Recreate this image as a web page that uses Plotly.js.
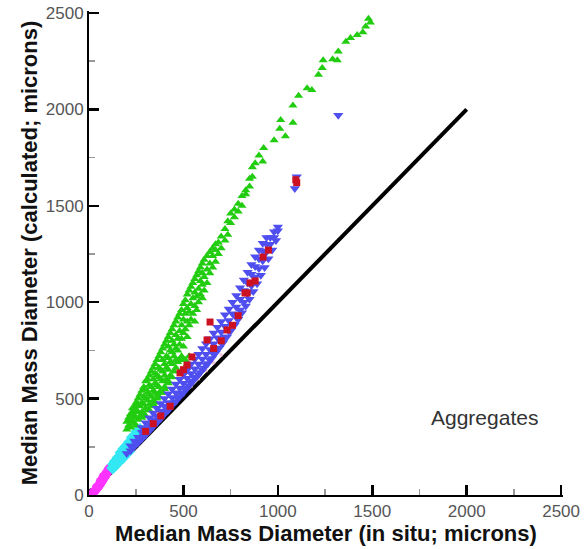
<!DOCTYPE html>
<html>
<head>
<meta charset="utf-8">
<script src="https://cdn.plot.ly/plotly-3.0.1.min.js"></script>
<style>html,body{margin:0;padding:0;background:#fff;}#chart{width:584px;height:549px;}</style>
</head>
<body>
<div id="chart"></div>
<script>
// Aggregates: calculated vs in situ median mass diameter (microns), [x, y] pairs
const greenPts = [[200,340],[200,380],[210,360],[210,400],[220,350],[220,390],[220,420],[230,380],[230,430],[230,450],[240,370],[240,410],[240,460],[250,360],[250,400],[250,440],[250,480],[260,390],[260,430],[260,470],[260,500],[270,410],[270,460],[270,520],[280,400],[280,430],[280,480],[280,540],[290,420],[290,470],[290,510],[290,560],[300,410],[300,450],[300,500],[300,550],[300,590],[310,440],[310,490],[310,530],[310,600],[320,440],[320,470],[320,520],[320,570],[320,620],[330,460],[330,510],[330,560],[330,640],[340,470],[340,490],[340,540],[340,600],[340,660],[350,480],[350,530],[350,580],[350,630],[350,680],[360,500],[360,520],[360,570],[360,620],[360,700],[370,510],[370,560],[370,610],[370,660],[370,720],[380,530],[380,540],[380,600],[380,650],[380,740],[390,530],[390,590],[390,640],[390,700],[390,760],[400,550],[400,560],[400,620],[400,680],[400,780],[410,600],[410,660],[410,720],[410,800],[420,580],[420,590],[420,650],[420,710],[420,770],[420,820],[430,620],[430,690],[430,750],[430,840],[440,610],[440,680],[440,740],[440,800],[440,860],[450,640],[450,720],[450,780],[450,880],[460,660],[460,700],[460,760],[460,830],[460,900],[470,690],[470,750],[470,810],[470,920],[480,700],[480,780],[480,850],[480,940],[490,720],[490,810],[490,880],[490,960],[500,700],[500,770],[500,840],[500,910],[500,990],[510,700],[510,860],[510,940],[510,1010],[520,680],[520,820],[520,900],[520,970],[520,1040],[530,720],[530,880],[530,950],[530,1060],[540,910],[540,990],[540,1080],[550,940],[550,1020],[550,1100],[560,900],[560,980],[560,1050],[560,1120],[570,960],[570,1030],[570,1140],[580,1000],[580,1070],[580,1160],[590,1040],[590,1110],[590,1180],[600,1020],[600,1090],[600,1150],[600,1200],[610,1060],[610,1130],[610,1220],[625,1100],[625,1170],[625,1240],[640,1150],[640,1200],[640,1260],[655,1180],[655,1240],[655,1280],[670,1210],[670,1270],[670,1300],[685,1250],[685,1310],[700,1280],[700,1340],[720,1320],[720,1380],[735,1350],[735,1420],[750,1410],[750,1460],[770,1440],[770,1480],[790,1470],[790,1510],[810,1500],[810,1550],[830,1560],[830,1580],[850,1600],[850,1640],[865,1650],[865,1700],[880,1720],[900,1760],[920,1730],[925,1800],[980,1840],[1010,1900],[1015,1945],[1040,1860],[1080,1930],[1080,2020],[1110,2070],[1155,2110],[1180,2100],[1215,2180],[1235,2215],[1240,2255],[1290,2260],[1315,2255],[1320,2300],[1360,2350],[1385,2370],[1420,2385],[1450,2400],[1465,2430],[1480,2470],[1490,2450]];

const bluePts = [[220,230],[220,255],[240,250],[240,280],[260,270],[260,300],[280,290],[280,325],[280,350],[300,310],[300,345],[300,375],[320,335],[320,365],[320,400],[340,355],[340,390],[340,425],[360,375],[360,410],[360,450],[380,395],[380,435],[380,475],[400,420],[400,460],[400,500],[420,440],[420,480],[420,525],[440,465],[440,505],[440,550],[460,485],[460,530],[460,575],[480,510],[480,555],[480,600],[500,530],[500,580],[500,625],[520,555],[520,605],[520,650],[540,580],[540,630],[540,680],[560,605],[560,655],[560,705],[580,625],[580,680],[580,730],[600,650],[600,705],[600,760],[620,675],[620,730],[620,785],[640,700],[640,755],[640,810],[660,730],[660,785],[660,840],[680,760],[680,815],[680,870],[700,790],[700,845],[700,900],[720,820],[720,875],[720,935],[740,850],[740,905],[740,965],[760,885],[760,940],[760,1000],[780,920],[780,975],[780,1035],[800,960],[800,1015],[800,1075],[820,1000],[820,1060],[820,1115],[840,1040],[840,1100],[840,1155],[860,1085],[860,1145],[860,1195],[880,1130],[880,1185],[880,1235],[900,1175],[900,1225],[900,1270],[920,1215],[920,1265],[920,1305],[940,1260],[940,1300],[940,1335],[960,1300],[960,1335],[980,1335],[980,1365],[1000,1370],[1000,1390],[1090,1590],[1100,1650],[1320,1970],
  [200,215],[230,245],[250,265],[270,285],[290,305],[310,325],[330,345],[350,368],[370,390],[390,410],[410,432],[430,455],[450,477],[470,500],[490,522],[510,545],[530,567],[550,590],[570,612],[590,635],[610,658],[630,682],[650,708],[670,735],[690,762],[710,790],[730,820],[750,850],[770,880],[790,912],[810,945],[830,980],[850,1015],[870,1055],[890,1095],[910,1140],[930,1180],[950,1225],[970,1270],[990,1320]];

const redPts = [[300,330],[340,370],[380,410],[430,460],[482,633],[500,650],[519,674],[545,716],[625,804],[641,897],[660,760],[700,800],[731,856],[760,880],[790,930],[826,1048],[837,1048],[853,1100],[880,1110],[922,1234],[950,1270],[1100,1620],[1095,1635]];

const pinkPts = [[260,280],[300,318],[340,358],[380,398],[420,440],[460,480],[500,522],[540,562],[580,603],[620,645],[660,686],[700,727]];

const cyanPts = [[125,140],[130,160],[135,150],[140,175],[145,165],[150,180],[155,195],[160,175],[165,200],[170,220],[175,210],[180,195],[185,240],[190,230],[195,215],[200,255],[205,245],[210,225],[215,275],[220,260],[225,270],[230,300],[235,285],[240,300],[245,275],[250,310],[255,330],[260,320],[265,300],[270,340]];

const magentaPts = [[20,10],[28,18],[35,26],[42,35],[48,42],[50,45],[55,52],[58,62],[62,60],[68,70],[70,82],[72,78],[78,85],[80,98],[84,95],[88,102],[90,112],[93,110],[98,118],[100,128],[102,125],[106,132],[110,140],[40,40],[60,70],[75,95]];

const blackPts = [[3,4],[8,6],[12,10],[16,14],[20,18],[25,20]];

const lineX = [0, 2000];
const lineY = [0, 2000];

const xs = p => p.map(d => d[0]);
const ys = p => p.map(d => d[1]);

const traces = [
  {x: lineX, y: lineY, mode: 'lines', line: {color: '#000', width: 4}, type: 'scatter'},
  {x: xs(pinkPts), y: ys(pinkPts), mode: 'markers', marker: {color: '#f2c4d6', size: 3, symbol: 'square'}, type: 'scatter'},
  {x: xs(blackPts), y: ys(blackPts), mode: 'markers', marker: {color: '#000', size: 6, symbol: 'square'}, type: 'scatter'},
  {x: xs(magentaPts), y: ys(magentaPts), mode: 'markers', marker: {color: '#ff33ff', size: 9, symbol: 'circle'}, type: 'scatter'},
  {x: xs(cyanPts), y: ys(cyanPts), mode: 'markers', marker: {color: '#33e8f2', size: 10, symbol: 'diamond'}, type: 'scatter'},
  {x: xs(greenPts), y: ys(greenPts), mode: 'markers', marker: {color: '#22cc11', size: 8, symbol: 'triangle-up'}, type: 'scatter'},
  {x: xs(bluePts), y: ys(bluePts), mode: 'markers', marker: {color: '#4f4ff0', size: 9, symbol: 'triangle-down'}, type: 'scatter'},
  {x: xs(redPts), y: ys(redPts), mode: 'markers', marker: {color: '#cc1122', size: 7, symbol: 'square'}, type: 'scatter'}
];

const axisCommon = {
  range: [0, 2510],
  tickmode: 'linear',
  tick0: 0,
  dtick: 500,
  ticks: 'inside',
  ticklen: 10,
  tickwidth: 2.5,
  tickcolor: '#000',
  showline: true,
  linecolor: '#000',
  linewidth: 2,
  showgrid: false,
  zeroline: false,
  tickfont: {family: 'Liberation Sans, Arial, sans-serif', size: 17, color: '#555'},
  minor: {ticks: 'inside', ticklen: 6, tickwidth: 1.5, tickcolor: '#999', dtick: 250}
};

const titleFont = {family: 'Liberation Sans, Arial, sans-serif', size: 22, color: '#111', weight: 'bold'};

const layout = {
  width: 584, height: 549,
  margin: {l: 89, r: 21, t: 11, b: 54},
  paper_bgcolor: '#fff', plot_bgcolor: '#fff',
  showlegend: false,
  xaxis: Object.assign({}, axisCommon, {
    title: {text: 'Median Mass Diameter (in situ; microns)', standoff: 2, font: titleFont}
  }),
  yaxis: Object.assign({}, axisCommon, {
    title: {text: 'Median Mass Diameter (calculated; microns)', standoff: 2, font: titleFont}
  }),
  annotations: [{
    x: 2092, y: 400, xref: 'x', yref: 'y', text: 'Aggregates', showarrow: false,
    font: {family: 'Liberation Sans, Arial, sans-serif', size: 21, color: '#333'}
  }]
};

Plotly.newPlot('chart', traces, layout, {staticPlot: true, displayModeBar: false});
</script>
</body>
</html>
